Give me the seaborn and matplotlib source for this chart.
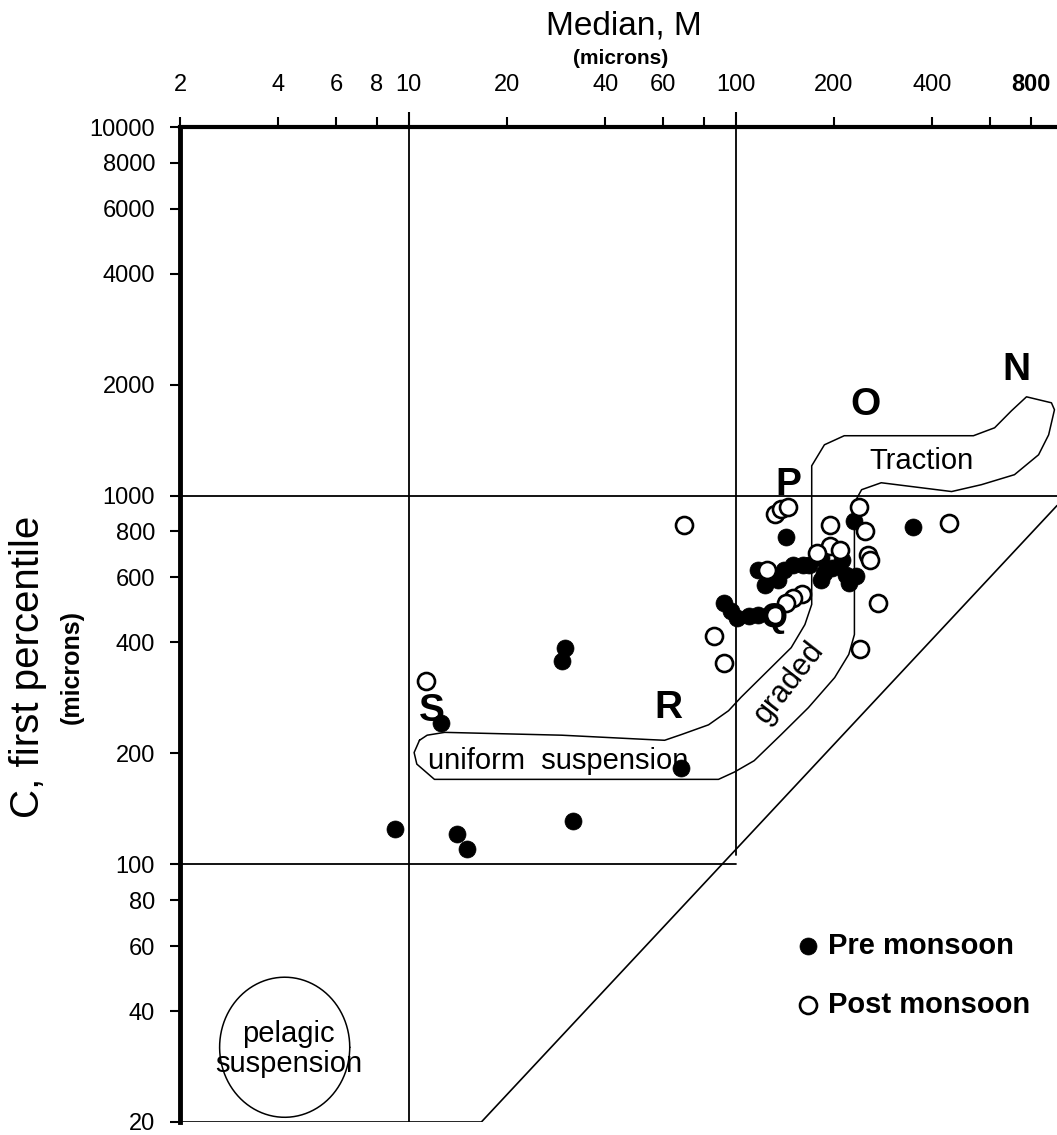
import numpy as np
import pandas as pd
import matplotlib
matplotlib.use('Agg')
import matplotlib.pyplot as plt
import seaborn as sns
from matplotlib.ticker import NullLocator

# ---------------- data (microns) ----------------
pre_M = [9.06, 14.1, 15.1, 31.9, 30.0, 29.4, 12.6, 67.9, 92.5, 97.2, 100.7, 109.6,
         117.5, 127, 122.7, 135.3, 141, 150, 161, 168, 183, 187, 197, 211, 218, 222,
         234, 183, 143, 231, 348, 117.5]
pre_C = [125, 121, 110, 131, 387, 357, 241, 182, 513, 488, 467, 473,
         630, 618, 574, 589, 627, 650, 650, 650, 679, 618, 638, 667, 611, 581,
         607, 592, 774, 855, 824, 476]

post_M = [11.3, 69.8, 132, 138, 145, 194, 239, 248, 451, 85.7, 91.9, 272, 241,
          194, 208, 255, 258, 160, 150, 143, 131.6, 177, 124.5]
post_C = [315, 830, 893, 922, 933, 830, 933, 803, 845, 415, 352, 513, 383,
          732, 714, 692, 667, 542, 529, 513, 476, 701, 630]

# CM-diagram field outline (N-O-P-Q-R-S), in microns
zone_M = [10.8, 11.4, 12.9, 29.4, 54.2, 60.7, 68.4, 82.7, 95.2, 104, 126, 148, 163,
          171, 171, 187, 215, 534, 620, 698, 776, 925, 945, 907, 845, 713, 565, 458,
          279, 243, 231, 231, 222, 201, 167, 138, 114, 99.3, 88.7, 12.0, 10.6, 10.4, 10.8]
zone_C = [217, 224, 228, 224, 218, 217, 225, 239, 261, 284, 336, 387, 447,
          507, 1205, 1374, 1454, 1454, 1528, 1699, 1854, 1786, 1710, 1462, 1291, 1140, 1071, 1026,
          1084, 1038, 957, 420, 371, 321, 266, 225, 191, 178, 170, 170, 187, 201, 217]

# lower boundary (C = 20 line and C ~ M diagonal)
diag_M = [2, 16.7, 962]
diag_C = [20, 20, 940]

# pelagic suspension field: centre (M, C) and radii in decades
pelagic_centre = (4.18, 31.9)
pelagic_radius = (0.199, 0.190)

x_ticks_major = [10, 100]
x_ticks_minor = [2, 4, 6, 8, 20, 40, 60, 80, 200, 400, 600, 800]
x_labels_minor = ['2', '4', '6', '8', '20', '40', '60', '', '200', '400', '', '800']
y_ticks = [20, 40, 60, 80, 100, 200, 400, 600, 800, 1000, 2000, 4000, 6000, 8000, 10000]
y_labels = [str(v) for v in y_ticks]

# ---------------- style ----------------
sns.set_style('white')
plt.rcParams['font.family'] = ['Liberation Sans', 'DejaVu Sans']
plt.rcParams['text.color'] = 'black'

W, H = 1057, 1135
fig = plt.figure(figsize=(W / 100, H / 100), dpi=100)
ax = fig.add_axes([180 / W, 1 - 1122 / H, 877 / W, 995 / H])
ax.set_xscale('log')
ax.set_yscale('log')

lc = 'black'
# reference lines
ax.plot([10, 10], [20, 10000], color=lc, lw=1.3, zorder=2)
ax.plot([100, 100], [106, 10000], color=lc, lw=1.3, zorder=2)
ax.plot([2, 962], [1000, 1000], color=lc, lw=1.3, zorder=2)
ax.plot([2, 100], [100, 100], color=lc, lw=1.3, zorder=2)
ax.plot(diag_M, diag_C, color=lc, lw=1.2, zorder=2)
ax.plot(zone_M, zone_C, color=lc, lw=1.1, zorder=2)

t = np.linspace(0, 2 * np.pi, 300)
ax.plot(pelagic_centre[0] * 10 ** (pelagic_radius[0] * np.cos(t)),
        pelagic_centre[1] * 10 ** (pelagic_radius[1] * np.sin(t)),
        color=lc, lw=1.1, zorder=2)

pre = pd.DataFrame({'M': pre_M, 'C': pre_C})
post = pd.DataFrame({'M': post_M, 'C': post_C})
sns.scatterplot(data=pre, x='M', y='C', ax=ax, color='black', edgecolor='black',
                s=150, linewidth=0.5, label='Pre monsoon', zorder=4)
sns.scatterplot(data=post, x='M', y='C', ax=ax, color='white', edgecolor='black',
                s=150, linewidth=1.9, label='Post monsoon', zorder=5)

ax.set_xlim(2, 962)
ax.set_ylim(20, 10000)
ax.set_xlabel('')
ax.set_ylabel('')

# ---------------- axes / ticks ----------------
ax.xaxis.tick_top()
ax.set_xticks(x_ticks_major)
ax.set_xticklabels(['10', '100'])
ax.set_xticks(x_ticks_minor, minor=True)
ax.set_xticklabels(x_labels_minor, minor=True)
ax.tick_params(axis='x', which='major', top=True, bottom=False, direction='out',
               length=11, width=1.5, pad=11, labelsize=17, labeltop=True,
               labelbottom=False, colors='black')
ax.tick_params(axis='x', which='minor', top=True, bottom=False, direction='out',
               length=7, width=1.5, pad=15, labelsize=17, labeltop=True,
               labelbottom=False, colors='black')
for lbl in ax.get_xticklabels(minor=True):
    if lbl.get_text() == '800':
        lbl.set_fontweight('bold')

ax.set_yticks(y_ticks)
ax.set_yticklabels(y_labels)
ax.yaxis.set_minor_locator(NullLocator())
ax.tick_params(axis='y', which='major', left=True, direction='out', length=7,
               width=1.5, pad=11, labelsize=17, colors='black')

for s in ['right', 'bottom']:
    ax.spines[s].set_visible(False)
ax.spines['left'].set_linewidth(3.5)
ax.spines['top'].set_linewidth(3)
ax.spines['left'].set_color('black')
ax.spines['top'].set_color('black')

# ---------------- annotations ----------------
bold = dict(fontsize=28, fontweight='bold', ha='center', va='center', zorder=6)
ax.text(145, 1072, 'P', **bold)
ax.text(250, 1764, 'O', **bold)
ax.text(723, 2193, 'N', **bold)
ax.text(62.4, 266, 'R', **bold)
ax.text(11.8, 261, 'S', **bold)
ax.text(131.6, 467, 'Q', **dict(bold, fontsize=25))

ax.text(371, 1245, 'Traction', fontsize=21, ha='center', va='center')
ax.text(28.6, 191, 'uniform  suspension', fontsize=21, ha='center', va='center', zorder=3)
ax.text(146, 311, 'graded', fontsize=22, ha='center', va='center', rotation=52)
ax.text(4.3, 31.5, 'pelagic\nsuspension', fontsize=21, ha='center', va='center',
        linespacing=1.1, zorder=3)

leg = ax.legend(loc='upper left', bbox_to_anchor=(0.7025, 0.191), frameon=False,
                prop={'weight': 'bold', 'size': 21}, handlelength=0.8,
                handletextpad=0.3, labelspacing=1.05, borderpad=0,
                borderaxespad=0)

# axis titles
fig.text(624 / W, 1 - 26 / H, 'Median, M', fontsize=24, ha='center', va='center')
fig.text(621 / W, 1 - 58 / H, '(microns)', fontsize=15, fontweight='bold',
         ha='center', va='center')
fig.text(28 / W, 1 - 667 / H, 'C, first percentile', fontsize=29, rotation=90,
         ha='center', va='center')
fig.text(72 / W, 1 - 667 / H, '(microns)', fontsize=18, fontweight='bold',
         rotation=90, ha='center', va='center')

fig.savefig('out.png', dpi=100)
